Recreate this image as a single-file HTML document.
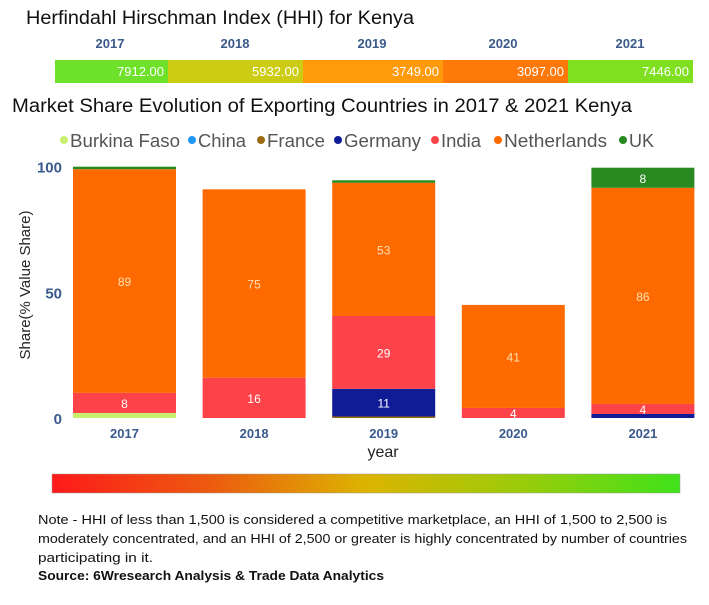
<!DOCTYPE html>
<html><head><meta charset="utf-8"><style>
body{margin:0;background:#fff;width:709px;height:600px;overflow:hidden;font-family:"Liberation Sans",sans-serif}
svg text{font-family:"Liberation Sans",sans-serif}
</style></head><body>
<svg id="c" width="709" height="600" xmlns="http://www.w3.org/2000/svg">
<text x="26" y="24" font-size="19" fill="#111" textLength="388" lengthAdjust="spacingAndGlyphs">Herfindahl Hirschman Index (HHI) for Kenya</text>
<g id="hhi"></g>
<text x="12" y="112" font-size="19" fill="#111" textLength="620" lengthAdjust="spacingAndGlyphs">Market Share Evolution of Exporting Countries in 2017 &amp; 2021 Kenya</text>
<g id="legend"></g>
<g id="axes"></g>
<g id="bars"></g>
<text x="0" y="0" transform="translate(30,285) rotate(-90)" text-anchor="middle" font-size="15" fill="#222">Share(% Value Share)</text>
<text x="383" y="457" text-anchor="middle" font-size="16" fill="#222">year</text>
<defs><linearGradient id="g" x1="0" x2="1"><stop offset="0" stop-color="#ff1a1a"/><stop offset="0.25" stop-color="#ec5a10"/><stop offset="0.5" stop-color="#dcb400"/><stop offset="0.75" stop-color="#9acc0a"/><stop offset="1" stop-color="#3fe21a"/></linearGradient></defs>
<rect x="52" y="474" width="628" height="19" fill="url(#g)" stroke="#999" stroke-width="0.5"/>
<text font-size="13" fill="#111"><tspan x="38" y="524" textLength="629" lengthAdjust="spacingAndGlyphs">Note - HHI of less than 1,500 is considered a competitive marketplace, an HHI of 1,500 to 2,500 is</tspan><tspan x="38" y="543" textLength="649" lengthAdjust="spacingAndGlyphs">moderately concentrated, and an HHI of 2,500 or greater is highly concentrated by number of countries</tspan><tspan x="38" y="562" textLength="115" lengthAdjust="spacingAndGlyphs">participating in it.</tspan></text>
<text x="38" y="580" font-size="13" font-weight="bold" fill="#111" textLength="346" lengthAdjust="spacingAndGlyphs">Source: 6Wresearch Analysis &amp; Trade Data Analytics</text>
</svg>
<script>
const years=["2017","2018","2019","2020","2021"];
const hhiValues=[7912,5932,3749,3097,7446];
const hhiColors=["#6ee22a","#cccc14","#ff9a0a","#ff780a","#7fe020"];
const series=["Burkina Faso","China","France","Germany","India","Netherlands","UK"];
const seriesColors=["#c8f06e","#2196f3","#9c6b10","#101c96","#fc4349","#ff6a00","#2a8a22"];
const burkinaFaso=[2,0,0,0,0];
const china=[0,0,0,0,0];
const france=[0,0,0.6,0,0];
const germany=[0,0,11,0,1.6];
const india=[8,16,29,4,4];
const netherlands=[89,75,53,41,86];
const uk=[1,0,1,0,8];
const yTicks=[0,50,100];
const NS="http://www.w3.org/2000/svg";
function mk(t,a,p){const e=document.createElementNS(NS,t);for(const k in a)e.setAttribute(k,a[k]);p.appendChild(e);return e;}
const hhi=document.getElementById('hhi');
const hx=[55,168,303,443,568,693];
years.forEach((y,i)=>{
 const r=mk('rect',{x:hx[i],y:60,width:hx[i+1]-hx[i],height:23,fill:hhiColors[i]},hhi);
 
 
 const t=mk('text',{x:hx[i+1]-4,y:76,'text-anchor':'end','font-size':13,fill:'#fff'},hhi);t.textContent=hhiValues[i].toFixed(2);
 
 
 const h=mk('text',{x:[110,235,372,503,630][i],y:48,'text-anchor':'middle','font-size':13,'font-weight':'bold',fill:'#3a5a8c'},hhi);h.textContent=y;
 
 
});
const lg=document.getElementById('legend');
const lx=[70,198,267,344,441,504,629];
const lw=[110,48,58,77,40,103,0];
series.forEach((s,i)=>{
 const g=mk('g',{},lg);
 
 
 mk('circle',{cx:lx[i]-6,cy:140,r:4,fill:seriesColors[i]},g);
 const at={x:lx[i],y:147,'font-size':18,fill:'#555'};
 if(lw[i]){at.textLength=lw[i];at.lengthAdjust='spacingAndGlyphs';}
 const t=mk('text',at,g);t.textContent=s;
});
const y0=418,y100=166.7;
const yS=v=>y0-(y0-y100)*v/100;
const ax=document.getElementById('axes');
yTicks.forEach(v=>{const t=mk('text',{x:62,y:yS(v)+6,'text-anchor':'end','font-size':15,'font-weight':'bold',fill:'#3a5a8c'},ax);t.textContent=v;
 
 });
const bx=i=>73+i*129.6, bw=103;
const bars=document.getElementById('bars');
const data=[burkinaFaso,china,france,germany,india,netherlands,uk];
years.forEach((y,i)=>{
 let cum=0;
 data.forEach((arr,s)=>{
  const v=arr[i]; if(!v) return;
  const top=yS(cum+v), bot=yS(cum);
  const r=mk('rect',{x:bx(i),y:top,width:bw,height:bot-top,fill:seriesColors[s]},bars);
  
  
  if(v>=4){const t=mk('text',{x:bx(i)+bw/2,y:(top+bot)/2+5,'text-anchor':'middle','font-size':12,fill:s==5?'#ffe0b0':'#fff'},bars);t.textContent=Math.round(v);
   
   }
  cum+=v;
 });
 const t=mk('text',{x:bx(i)+bw/2,y:438,'text-anchor':'middle','font-size':13,'font-weight':'bold',fill:'#3a5a8c'},ax);t.textContent=y;
 
 
});
</script>
</body></html>
